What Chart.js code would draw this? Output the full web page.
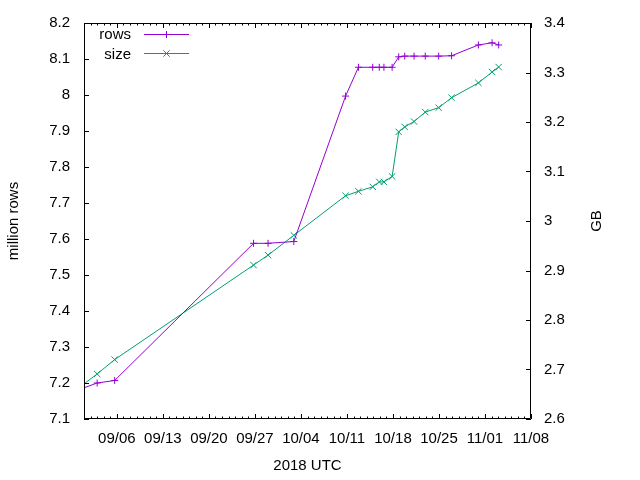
<!DOCTYPE html>
<html lang="en">
<head>
<meta charset="UTF-8">
<title>rows and size</title>
<style>
    body {
        margin: 0;
        background-color: #fff;
    }

    #chart {
        display: block;
    }
</style>
</head>
<body>
<canvas id="chart" width="640" height="480"></canvas>

<script src="https://cdn.jsdelivr.net/npm/chart.js"></script>
<script>
    // sample times (UTC), shared by both series
    var times = [
        '2018-08-31T00:00Z', '2018-09-03T00:00Z', '2018-09-05T16:00Z', '2018-09-26T19:00Z',
        '2018-09-29T00:00Z', '2018-10-02T22:00Z', '2018-10-10T19:00Z', '2018-10-12T18:00Z',
        '2018-10-14T22:00Z', '2018-10-15T22:00Z', '2018-10-16T15:00Z', '2018-10-17T21:00Z',
        '2018-10-18T21:00Z', '2018-10-19T19:00Z', '2018-10-21T05:00Z', '2018-10-22T22:00Z',
        '2018-10-24T23:00Z', '2018-10-26T22:00Z', '2018-10-31T00:00Z', '2018-11-02T02:00Z',
        '2018-11-03T02:00Z'
    ];
    // million rows (left axis)
    var rowsMillion = [
        7.180, 7.200, 7.207, 7.588, 7.588, 7.593, 7.997, 8.077,
        8.077, 8.077, 8.077, 8.077, 8.106, 8.108, 8.108, 8.108,
        8.108, 8.109, 8.139, 8.145, 8.139
    ];
    // GB (right axis)
    var sizeGB = [
        2.661, 2.691, 2.720, 2.911, 2.931, 2.971, 3.051, 3.060,
        3.069, 3.079, 3.079, 3.090, 3.180, 3.190, 3.201, 3.220,
        3.229, 3.249, 3.279, 3.301, 3.311
    ];

    var xStart = '2018-09-01T00:00Z';
    var xEnd = '2018-11-08T00:00Z';
    var xTickDates = [
        '2018-09-06T00:00Z', '2018-09-13T00:00Z', '2018-09-20T00:00Z', '2018-09-27T00:00Z',
        '2018-10-04T00:00Z', '2018-10-11T00:00Z', '2018-10-18T00:00Z', '2018-10-25T00:00Z',
        '2018-11-01T00:00Z', '2018-11-08T00:00Z'
    ];
    var leftTicks = [7.1, 7.2, 7.3, 7.4, 7.5, 7.6, 7.7, 7.8, 7.9, 8, 8.1, 8.2];
    var rightTicks = [2.6, 2.7, 2.8, 2.9, 3, 3.1, 3.2, 3.3, 3.4];

    var DAY = 86400000;
    var FONT = { family: '"Liberation Sans", Arial, sans-serif', size: 15 };

    function pad2(n) { return (n < 10 ? '0' : '') + n; }
    function fmtDate(ms) {
        var d = new Date(ms);
        return pad2(d.getUTCMonth() + 1) + '/' + pad2(d.getUTCDate());
    }
    function fmtNum(v) { return String(Number(v.toFixed(1))); }

    var rowsPoints = times.map(function (t, i) { return { x: Date.parse(t), y: rowsMillion[i] }; });
    var sizePoints = times.map(function (t, i) { return { x: Date.parse(t), y: sizeGB[i] }; });

    function drawMarker(ctx, style, x, y) {
        ctx.beginPath();
        if (style === 'cross') {
            var r = 3.5;
            ctx.moveTo(x - r, y); ctx.lineTo(x + r, y);
            ctx.moveTo(x, y - r); ctx.lineTo(x, y + r);
        } else {
            var q = 3.2;
            ctx.moveTo(x - q, y - q); ctx.lineTo(x + q, y + q);
            ctx.moveTo(x - q, y + q); ctx.lineTo(x + q, y - q);
        }
        ctx.stroke();
    }

    // gnuplot-like frame: border, inward ticks, y2 label and key
    var gnuplotFrame = {
        id: 'gnuplotFrame',
        afterDraw: function (chart) {
            var ctx = chart.ctx;
            var a = chart.chartArea;
            var xs = chart.scales.x, ys = chart.scales.y, y2s = chart.scales.y2;
            ctx.save();
            ctx.strokeStyle = '#000';
            ctx.lineWidth = 1;
            ctx.beginPath();
            ctx.rect(a.left + 0.5, a.top + 0.5, a.right - a.left - 1, a.bottom - a.top - 1);
            ctx.stroke();

            ctx.beginPath();
            // daily minor ticks, bottom and top
            for (var t = xs.min; t <= xs.max; t += DAY) {
                var px = Math.round(xs.getPixelForValue(t)) + 0.5;
                ctx.moveTo(px, a.bottom); ctx.lineTo(px, a.bottom - 2.5);
                ctx.moveTo(px, a.top); ctx.lineTo(px, a.top + 2.5);
            }
            xTickDates.forEach(function (d) {
                var px = Math.round(xs.getPixelForValue(Date.parse(d))) + 0.5;
                ctx.moveTo(px, a.bottom); ctx.lineTo(px, a.bottom - 5);
                ctx.moveTo(px, a.top); ctx.lineTo(px, a.top + 5);
            });
            leftTicks.forEach(function (v) {
                var py = Math.round(ys.getPixelForValue(v)) + 0.5;
                ctx.moveTo(a.left, py); ctx.lineTo(a.left + 5, py);
            });
            rightTicks.forEach(function (v) {
                var py = Math.round(y2s.getPixelForValue(v)) + 0.5;
                ctx.moveTo(a.right, py); ctx.lineTo(a.right - 5, py);
            });
            ctx.stroke();

            ctx.font = FONT.size + 'px ' + FONT.family;
            ctx.fillStyle = '#000';

            // right axis label reads bottom to top, like the left one
            ctx.save();
            ctx.translate(597, (a.top + a.bottom) / 2);
            ctx.rotate(-Math.PI / 2);
            ctx.textAlign = 'center';
            ctx.textBaseline = 'middle';
            ctx.fillText('GB', 0, 0);
            ctx.restore();

            // key, top left inside the plot
            ctx.textAlign = 'right';
            ctx.textBaseline = 'alphabetic';
            chart.data.datasets.forEach(function (ds, i) {
                var ly = 34 + i * 19.3;
                ctx.fillStyle = '#000';
                ctx.fillText(ds.label, 131, ly + 5.3);
                ctx.strokeStyle = ds.borderColor;
                ctx.beginPath();
                ctx.moveTo(144, Math.round(ly) + 0.5);
                ctx.lineTo(189, Math.round(ly) + 0.5);
                ctx.stroke();
                drawMarker(ctx, ds.pointStyle, 166.5, Math.round(ly) + 0.5);
            });
            ctx.restore();
        }
    };

    Chart.defaults.font.family = FONT.family;
    Chart.defaults.font.size = FONT.size;
    Chart.defaults.color = '#000';

    var ctx = document.getElementById('chart').getContext('2d');
    var chart = new Chart(ctx, {
        type: 'line',
        data: {
            datasets: [{
                label: 'rows',
                data: rowsPoints,
                yAxisID: 'y',
                borderColor: '#9400d3',
                backgroundColor: '#9400d3',
                borderWidth: 1,
                pointStyle: 'cross',
                pointRadius: 3.5,
                pointBorderWidth: 1,
                tension: 0,
                fill: false
            }, {
                label: 'size',
                data: sizePoints,
                yAxisID: 'y2',
                borderColor: '#009e73',
                backgroundColor: '#009e73',
                borderWidth: 1,
                pointStyle: 'crossRot',
                pointRadius: 4.5,
                pointBorderWidth: 1,
                tension: 0,
                fill: false
            }]
        },
        options: {
            responsive: false,
            animation: false,
            devicePixelRatio: 1,
            layout: { padding: { top: 20, left: 0, right: 0, bottom: 0 } },
            plugins: {
                legend: { display: false },
                tooltip: { enabled: false }
            },
            scales: {
                x: {
                    type: 'linear',
                    min: Date.parse(xStart),
                    max: Date.parse(xEnd),
                    afterBuildTicks: function (s) {
                        s.ticks = xTickDates.map(function (d) { return { value: Date.parse(d) }; });
                    },
                    afterFit: function (s) { s.height = 61; },
                    grid: { display: false, drawTicks: false },
                    border: { display: false },
                    ticks: {
                        padding: 11,
                        autoSkip: false,
                        maxRotation: 0,
                        callback: function (v) { return fmtDate(v); }
                    },
                    title: { display: true, text: '2018 UTC', padding: { top: 0, bottom: 5 } }
                },
                y: {
                    position: 'left',
                    min: 7.1,
                    max: 8.2,
                    afterBuildTicks: function (s) {
                        s.ticks = leftTicks.map(function (v) { return { value: v }; });
                    },
                    afterFit: function (s) { s.width = 84; },
                    grid: { display: false, drawTicks: false },
                    border: { display: false },
                    ticks: { padding: 14, callback: function (v) { return fmtNum(v); } },
                    title: { display: true, text: 'million rows', padding: { top: 5, bottom: 0 } }
                },
                y2: {
                    position: 'right',
                    min: 2.6,
                    max: 3.4,
                    afterBuildTicks: function (s) {
                        s.ticks = rightTicks.map(function (v) { return { value: v }; });
                    },
                    afterFit: function (s) { s.width = 109; },
                    grid: { display: false, drawTicks: false },
                    border: { display: false },
                    ticks: { padding: 13, callback: function (v) { return fmtNum(v); } },
                    title: { display: false }
                }
            }
        },
        plugins: [gnuplotFrame]
    });
</script>
</body>
</html>
